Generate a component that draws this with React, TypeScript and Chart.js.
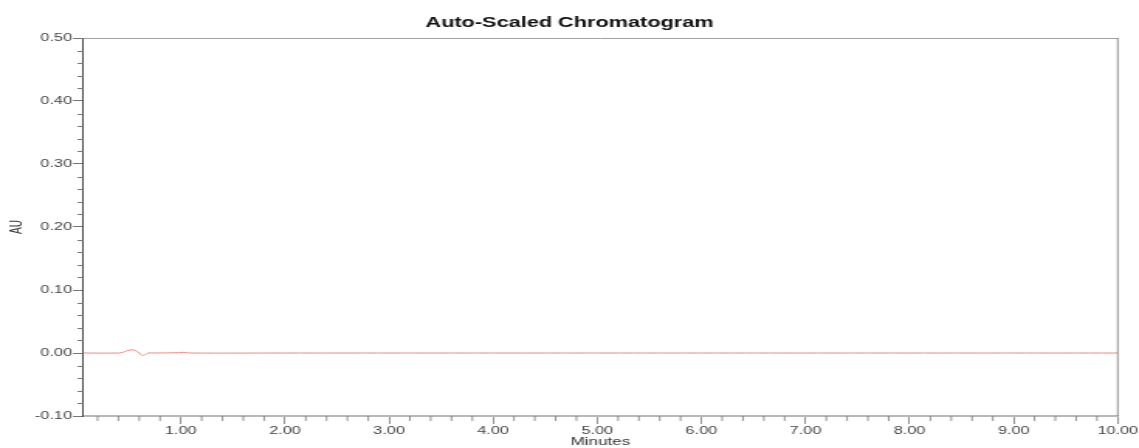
import React, { useEffect, useRef } from "react";
import { Chart, registerables } from "chart.js";

Chart.register(...registerables);

// Retention time (minutes) and absorbance (AU) of the trace
const timeMin = [0.06, 0.4, 0.44, 0.48, 0.52, 0.56, 0.6, 0.63, 0.66, 0.69, 0.75, 0.98, 1.03, 1.08, 2.0, 4.0, 6.0, 8.0, 10.0];
const absorbanceAU = [0, 0, 0.001, 0.0035, 0.0048, 0.004, 0.0, -0.004, -0.0025, 0, 0, 0.0005, 0.001, 0, 0, 0, 0, 0, 0];

const xMajorTicks = [1, 2, 3, 4, 5, 6, 7, 8, 9, 10];
const yMajorTicks = [-0.1, 0, 0.1, 0.2, 0.3, 0.4, 0.5];

const X_MIN = 0.06;
const X_MAX = 10;
const Y_MIN = -0.1;
const Y_MAX = 0.5;

// The chart is laid out on a narrow canvas and widened on screen,
// which gives the wide, stretched lettering of the printout.
const PAGE_W = 1139;
const PAGE_H = 448;
const STRETCH = 1.55;
const CANVAS_W = Math.round(PAGE_W / STRETCH);

const FONT = "'Liberation Sans', Arial, sans-serif";

// Frame around the plot plus minor tick marks on both axes
const framePlugin = {
  id: "frameAndMinorTicks",
  afterDraw(chart: any) {
    const { ctx, chartArea, scales } = chart;
    const { left, right, top, bottom } = chartArea;
    ctx.save();
    ctx.lineWidth = 1;
    ctx.strokeStyle = "#a0a0a0";
    ctx.beginPath();
    ctx.moveTo(left, top + 0.5);
    ctx.lineTo(right, top + 0.5);
    ctx.stroke();
    ctx.strokeStyle = "#777";
    ctx.lineWidth = 0.8;
    ctx.beginPath();
    ctx.moveTo(right, top);
    ctx.lineTo(right, bottom);
    ctx.stroke();

    ctx.lineWidth = 0.8;
    ctx.strokeStyle = "#777";
    const xs = scales.x;
    for (let i = 1; i < 50; i++) {
      const v = i * 0.2;
      if (Math.abs(v - Math.round(v)) < 1e-6) continue;
      if (v < X_MIN) continue;
      const px = xs.getPixelForValue(v);
      ctx.beginPath();
      ctx.moveTo(px, bottom);
      ctx.lineTo(px, bottom + 5);
      ctx.stroke();
    }
    ctx.lineWidth = 1;
    const ys = scales.y;
    for (let i = -5; i < 25; i++) {
      const v = i * 0.02;
      if (Math.abs(v * 10 - Math.round(v * 10)) < 1e-6) continue;
      const py = Math.round(ys.getPixelForValue(v)) + 0.5;
      ctx.beginPath();
      ctx.moveTo(left, py);
      ctx.lineTo(left - 3.5, py);
      ctx.stroke();
    }
    ctx.restore();
  },
};

export default function App() {
  const canvasRef = useRef<HTMLCanvasElement | null>(null);

  useEffect(() => {
    document.body.style.margin = "0";
    const canvas = canvasRef.current;
    if (!canvas) return;
    const points = timeMin.map((t, i) => ({ x: t, y: absorbanceAU[i] }));
    const chart = new Chart(canvas, {
      type: "line",
      data: {
        datasets: [
          {
            data: points,
            borderColor: "#ee8a80",
            borderWidth: 1,
            pointRadius: 0,
            tension: 0.4,
            fill: false,
          },
        ],
      },
      options: {
        animation: false,
        responsive: false,
        maintainAspectRatio: false,
        devicePixelRatio: 1,
        layout: { padding: 0 },
        plugins: {
          legend: { display: false },
          tooltip: { enabled: false },
          title: {
            display: true,
            text: "Auto-Scaled Chromatogram",
            color: "#111",
            font: { family: FONT, size: 14, weight: "bold" },
            padding: { top: 15, bottom: 6.2 },
          },
        },
        scales: {
          x: {
            type: "linear",
            min: X_MIN,
            max: X_MAX,
            afterBuildTicks: (scale: any) => {
              scale.ticks = xMajorTicks.map((v) => ({ value: v }));
            },
            afterFit: (scale: any) => {
              scale.height = 32;
              scale.paddingRight = 13.7;
            },
            border: { display: true, color: "#b8b8b8", width: 2 },
            grid: { display: true, drawOnChartArea: false, drawTicks: true, tickLength: 8, color: "#777", tickWidth: 0.8 },
            ticks: {
              color: "#444",
              font: { family: FONT, size: 10.5 },
              padding: 1,
              maxRotation: 0,
              autoSkip: false,
              callback: (v: any) => Number(v).toFixed(2),
            },
            title: {
              display: true,
              text: "Minutes",
              color: "#333",
              font: { family: FONT, size: 11 },
              padding: { top: 0, bottom: -0.5 },
            },
          },
          y: {
            type: "linear",
            min: Y_MIN,
            max: Y_MAX,
            afterBuildTicks: (scale: any) => {
              scale.ticks = yMajorTicks.map((v) => ({ value: v }));
            },
            afterFit: (scale: any) => {
              scale.width = 83 / STRETCH;
            },
            border: { display: true, color: "#444", width: 1 },
            grid: { display: true, drawOnChartArea: false, drawTicks: true, tickLength: 6.5, color: "#777" },
            ticks: {
              color: "#444",
              font: { family: FONT, size: 10.5 },
              padding: 0.5,
              autoSkip: false,
              callback: (v: any) => Number(v).toFixed(2),
            },
            title: {
              display: true,
              text: "AU",
              color: "#333",
              font: { family: FONT, size: 10 },
              padding: { top: 5, bottom: 0 },
            },
          },
        },
      },
      plugins: [framePlugin],
    });
    return () => chart.destroy();
  }, []);

  return (
    <div style={{ position: "fixed", left: 0, top: 0, width: PAGE_W, height: PAGE_H, background: "#fff", overflow: "hidden" }}>
      <canvas
        ref={canvasRef}
        width={CANVAS_W}
        height={PAGE_H}
        style={{
          width: CANVAS_W,
          height: PAGE_H,
          display: "block",
          transform: `scaleX(${PAGE_W / CANVAS_W})`,
          transformOrigin: "0 0",
        }}
      />
    </div>
  );
}
